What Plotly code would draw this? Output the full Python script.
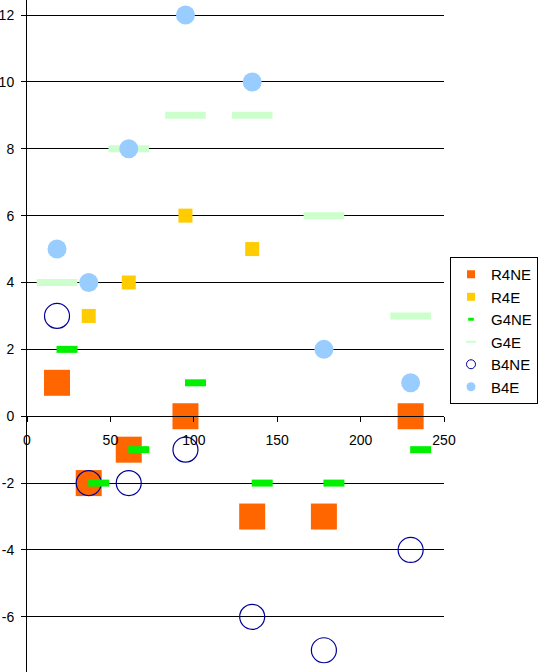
import plotly.graph_objects as go

# ---- data ----
x_R4NE = [18, 37, 61, 95, 135, 178, 230]
y_R4NE = [1, -2, -1, 0, -3, -3, 0]
x_R4E = [37, 61, 95, 135]
y_R4E = [3, 4, 6, 5]
x_G4NE = [24, 43, 67, 101, 141, 184, 236]
y_G4NE = [2, -2, -1, 1, -2, -2, -1]
x_G4E = [18, 61, 95, 135, 178, 230]
y_G4E = [4, 8, 9, 9, 6, 3]
x_B4NE = [18, 37, 61, 95, 135, 178, 230]
y_B4NE = [3, -2, -2, -1, -6, -7, -4]
x_B4E = [18, 37, 61, 95, 135, 178, 230]
y_B4E = [5, 4, 8, 12, 10, 2, 1]

y_tickvals = [-6, -4, -2, 0, 2, 4, 6, 8, 10, 12]
y_ticktext = ["-6", "-4", "-2", "0", "2", "4", "6", "8", "10", "12"]
x_tickvals = [0, 50, 100, 150, 200, 250]
x_ticktext = ["0", "50", "100", "150", "200", "250"]

FONT = "Liberation Sans, Arial, sans-serif"
C_R4NE = "#FF6600"
C_R4E = "#FFCC00"
C_G4NE = "#00F000"
C_G4E = "#CCFFCC"
C_B4NE = "#000099"
C_B4E = "#99CCFF"

fig = go.Figure()

# real data traces (legend handled by legend-only traces below)
fig.add_trace(go.Scatter(x=x_R4NE, y=y_R4NE, mode="markers", showlegend=False,
                         marker=dict(symbol="square", size=26, color=C_R4NE, line=dict(width=0))))
fig.add_trace(go.Scatter(x=x_R4E, y=y_R4E, mode="markers", showlegend=False,
                         marker=dict(symbol="square", size=14, color=C_R4E, line=dict(width=0))))
fig.add_trace(go.Scatter(x=x_G4E, y=y_G4E, mode="markers", showlegend=False,
                         marker=dict(symbol="line-ew", size=29, color=C_G4E,
                                     line=dict(width=7, color=C_G4E))))
fig.add_trace(go.Scatter(x=x_B4NE, y=y_B4NE, mode="markers", showlegend=False,
                         marker=dict(symbol="circle-open", size=25, color=C_B4NE,
                                     line=dict(width=1.2, color=C_B4NE))))
fig.add_trace(go.Scatter(x=x_G4NE, y=y_G4NE, mode="markers", showlegend=False,
                         marker=dict(symbol="line-ew", size=15, color=C_G4NE,
                                     line=dict(width=7, color=C_G4NE))))
fig.add_trace(go.Scatter(x=x_B4E, y=y_B4E, mode="markers", showlegend=False,
                         marker=dict(symbol="circle", size=19, color=C_B4E, line=dict(width=0))))

# legend entries
leg = [
    ("R4NE", dict(symbol="square", size=8, color=C_R4NE, line=dict(width=0))),
    ("R4E", dict(symbol="square", size=8, color=C_R4E, line=dict(width=0))),
    ("G4NE", dict(symbol="line-ew", size=4, color=C_G4NE, line=dict(width=3, color=C_G4NE))),
    ("G4E", dict(symbol="line-ew", size=7, color=C_G4E, line=dict(width=2, color=C_G4E))),
    ("B4NE", dict(symbol="circle-open", size=9, color=C_B4NE, line=dict(width=1, color=C_B4NE))),
    ("B4E", dict(symbol="circle", size=9, color=C_B4E, line=dict(width=0))),
]
for name, mk in leg:
    fig.add_trace(go.Scatter(x=[None], y=[None], mode="markers", name=name, marker=mk))

fig.update_layout(
    width=540, height=672,
    margin=dict(l=27, r=96, t=0, b=0, autoexpand=False),
    paper_bgcolor="white", plot_bgcolor="white",
    font=dict(family=FONT, size=14, color="black"),
    legend=dict(x=(538 - 27) / 417, xanchor="right", y=(672 - 257) / 672, yanchor="top",
                bordercolor="black", borderwidth=1, bgcolor="white",
                font=dict(family=FONT, size=15, color="black"), traceorder="normal"),
    xaxis=dict(range=[0, 250], tickvals=x_tickvals, ticktext=x_ticktext,
               showgrid=False, zeroline=False, showline=True, linecolor="black", linewidth=1,
               ticks="outside", ticklen=5, tickcolor="black",
               anchor="free", position=7.65 / 20.1, ticklabelstandoff=6),
    yaxis=dict(range=[-7.65, 12.45], tickvals=y_tickvals, ticktext=y_ticktext,
               showgrid=True, gridcolor="black", gridwidth=1, zeroline=False,
               showline=True, linecolor="black", linewidth=1,
               ticks="outside", ticklen=5, tickcolor="black", ticklabelstandoff=4),
)

fig.write_html("out.html", config={"displayModeBar": False},
               post_script="document.body.style.margin='0';document.body.style.overflow='hidden';")
